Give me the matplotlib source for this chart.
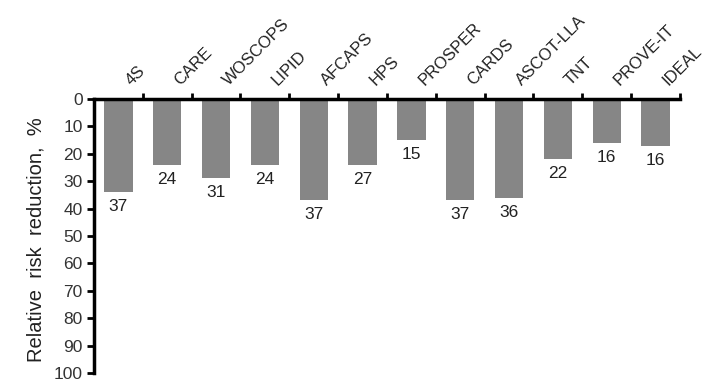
import numpy as np
import matplotlib.pyplot as plt
import matplotlib.transforms as mtransforms

trials = ['4S', 'CARE', 'WOSCOPS', 'LIPID', 'AFCAPS', 'HPS', 'PROSPER',
          'CARDS', 'ASCOT-LLA', 'TNT', 'PROVE-IT', 'IDEAL']
# bar depth as drawn
bar_depth = [34, 24, 29, 24, 37, 24, 15, 37, 36, 22, 16, 17]
# printed value under each bar
rrr_label = [37, 24, 31, 24, 37, 27, 15, 37, 36, 22, 16, 16]
y_ticks = list(range(0, 101, 10))

plt.rcParams['font.family'] = ['Liberation Sans', 'DejaVu Sans']

fig = plt.figure(figsize=(7.12, 3.89), dpi=100)
ax = fig.add_axes([0.132, 0.041, 0.823, 0.7045])

x = np.arange(len(trials))
ax.bar(x, bar_depth, width=0.58, color='#868686', zorder=2)

for xi, d, lab in zip(x, bar_depth, rrr_label):
    ax.annotate(str(lab), (xi, d), xytext=(0, -5), textcoords='offset points',
                ha='center', va='top', fontsize=12.5, color='#222222')

ax.set_xlim(-0.5, len(trials) - 0.5)
ax.set_ylim(100, 0)
ax.set_yticks(y_ticks)
ax.tick_params(axis='y', length=5, width=2, labelsize=12.5, labelcolor='#333333', pad=3)

# boundary ticks on the top axis, labels drawn as text
ax.xaxis.tick_top()
ax.set_xticks(np.arange(0.5, len(trials), 1.0))
ax.set_xticklabels([])
ax.tick_params(axis='x', length=4, width=2)

offs = mtransforms.ScaledTranslation(15 / 100, 11 / 100, fig.dpi_scale_trans)
for xi, name in zip(x, trials):
    ax.text(xi, 1.0, name, transform=ax.get_xaxis_transform() + offs,
            rotation=45, ha='left', va='bottom', rotation_mode='anchor',
            fontsize=12, color='#222222')

for s in ['right', 'bottom']:
    ax.spines[s].set_visible(False)
for s in ['left', 'top']:
    ax.spines[s].set_linewidth(2.5)

fig.text(0.05, 0.383, 'Relative  risk  reduction,  %', rotation=90,
         ha='center', va='center', fontsize=14.5, color='#222222')

fig.savefig('out.png', dpi=100)
